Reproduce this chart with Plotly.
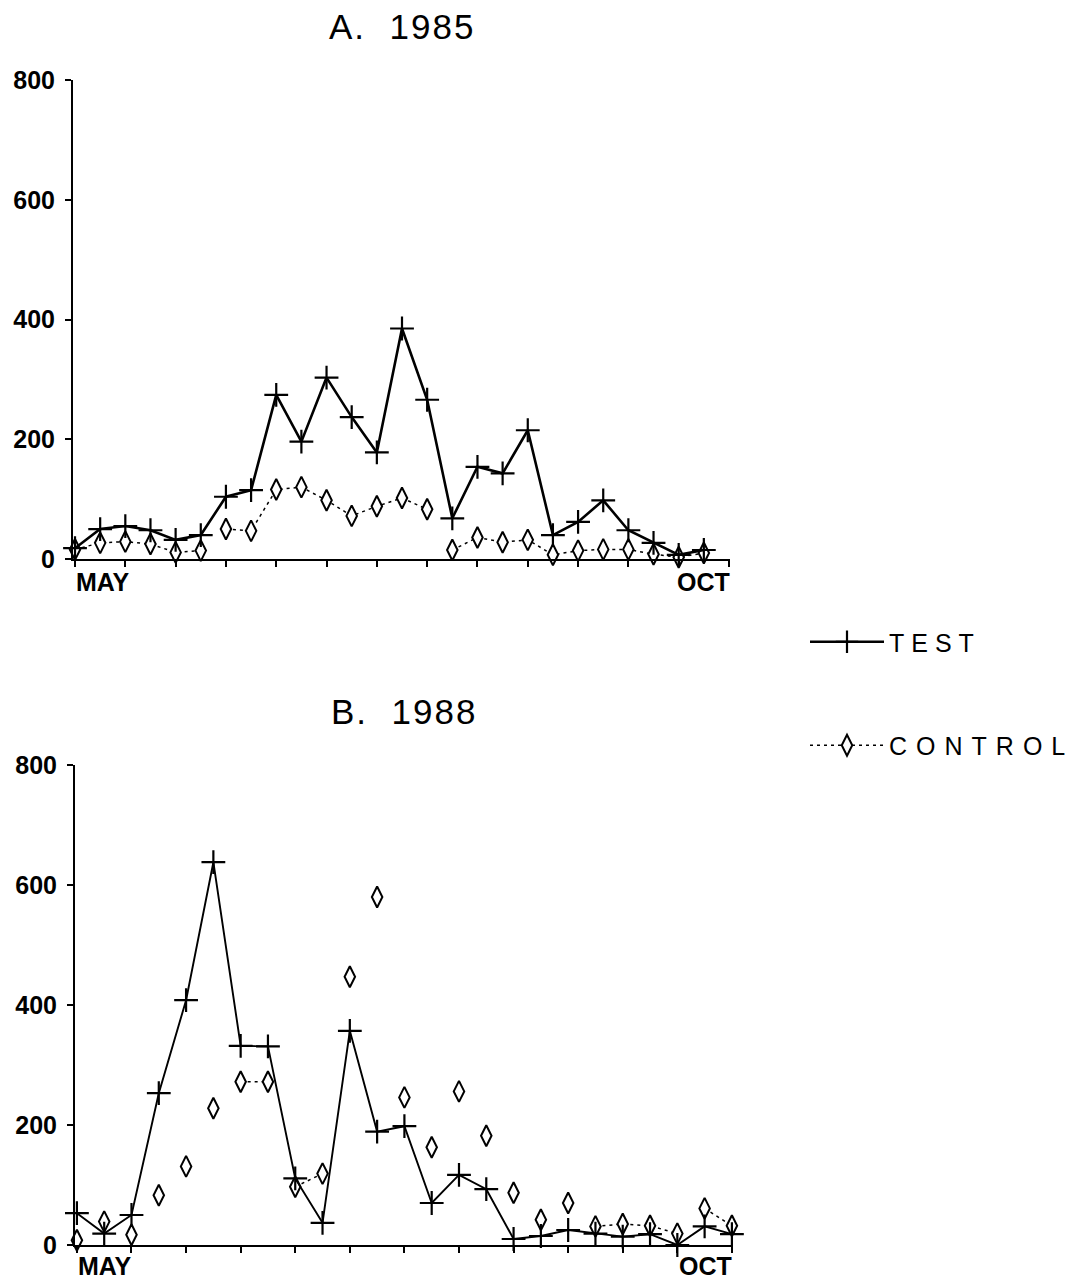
import plotly.graph_objects as go

# ---------------- data ----------------
# A. 1985 : samples at half-tick spacing from MAY (index 0) to OCT (index 26)
test_1985 = [18, 50, 55, 48, 32, 40, 104, 115, 274, 196, 303, 237, 178, 385,
             266, 68, 154, 143, 215, 40, 62, 98, 48, 27, 7, 15]
control_1985 = [16, 27, 29, 25, 11, 14, 50, 47, 116, 120, 98, 72, 88, 102,
                83, 15, 36, 28, 32, 7, 14, 16, 16, 8, 3, 10]
# B. 1988 : samples from MAY (index 0) to OCT (index 24)
test_1988 = [53, 19, 50, 253, 408, 638, 332, 331, 111, 37, 357, 189, 198,
             70, 117, 93, 10, 15, 25, 19, 14, 18, 0, 31, 18]
control_1988 = [8, 39, 17, 83, 131, 228, 272, 272, 97, 119, 447, 580, 246,
                163, 256, 182, 87, 42, 70, 31, 35, 32, 19, 61, 32]

n_ticks_1985 = 26   # index of OCT on panel A
n_ticks_1988 = 24   # index of OCT on panel B
month_labels = ["MAY", "OCT"]
y_ticks = [0, 200, 400, 600, 800]

# visible dotted links between consecutive control points (start index of pair)
control_links_1985 = [i for i in range(25) if i not in (5, 14)]
control_links_1988 = [6, 8, 19, 20, 21, 23]


def gapped(values, links):
    xs, ys = [], []
    for i, v in enumerate(values):
        xs.append(i)
        ys.append(v)
        if i < len(values) - 1 and i not in links:
            xs.append(i + 0.5)
            ys.append(None)
    return xs, ys


FONT = "Liberation Sans, Arial, sans-serif"
OFF = 8                      # page body margin
W, H = 1080 - OFF, 1283 - OFF


def px(x):       # screen x pixel -> paper fraction
    return (x - OFF) / W


def py(y):       # screen y pixel -> paper fraction
    return 1 - (y - OFF) / H


def spaced(t, s):
    return f"<span style='letter-spacing:{s}px'>{t}</span>"


fig = go.Figure()

test_marker = dict(symbol="cross-thin", size=17, color="black",
                   line=dict(color="black", width=2.2))
ctrl_marker = dict(symbol="diamond-tall", size=15, color="white",
                   line=dict(color="black", width=2))

# Panel A
cx, cy = gapped(control_1985, control_links_1985)
fig.add_trace(go.Scatter(x=cx, y=cy, mode="lines+markers", name=spaced("CONTROL", 9),
                         line=dict(color="black", width=1.5, dash="3px,4px"),
                         marker=ctrl_marker, connectgaps=False, cliponaxis=False,
                         legendgroup="c", legendrank=2, showlegend=True,
                         xaxis="x", yaxis="y"))
fig.add_trace(go.Scatter(x=list(range(len(test_1985))), y=test_1985,
                         mode="lines+markers", name=spaced("TEST", 7),
                         line=dict(color="black", width=2.6),
                         marker=test_marker, cliponaxis=False,
                         legendgroup="t", legendrank=1, showlegend=True,
                         xaxis="x", yaxis="y"))

# Panel B
cx, cy = gapped(control_1988, control_links_1988)
fig.add_trace(go.Scatter(x=cx, y=cy, mode="lines+markers", name="CONTROL",
                         line=dict(color="black", width=1.5, dash="3px,4px"),
                         marker=ctrl_marker, connectgaps=False, cliponaxis=False,
                         legendgroup="c", showlegend=False, xaxis="x2", yaxis="y2"))
fig.add_trace(go.Scatter(x=list(range(len(test_1988))), y=test_1988,
                         mode="lines+markers", name="TEST",
                         line=dict(color="black", width=1.9),
                         marker=test_marker, cliponaxis=False,
                         legendgroup="t", showlegend=False, xaxis="x2", yaxis="y2"))

axis_common = dict(showline=True, linecolor="black", linewidth=2, showgrid=False,
                   zeroline=False, ticks="outside", tickcolor="black", tickwidth=2,
                   ticklen=6, automargin=False)
ytick_font = dict(size=25, family="Liberation Sans, Arial", weight="bold")

fig.update_layout(
    width=W, height=H,
    margin=dict(l=0, r=0, t=0, b=0, pad=0, autoexpand=False),
    paper_bgcolor="white", plot_bgcolor="white",
    font=dict(family=FONT, color="black"),
    xaxis=dict(domain=[px(73), px(730)], range=[-0.08, n_ticks_1985 + 0.04],
               tickvals=list(range(0, n_ticks_1985 + 1, 2)), showticklabels=False,
               anchor="y", **axis_common),
    yaxis=dict(domain=[py(559), py(80)], range=[0, 800], tickvals=y_ticks,
               tickfont=ytick_font, ticklabelstandoff=5, anchor="x", **axis_common),
    xaxis2=dict(domain=[px(75), px(733)], range=[-0.07, n_ticks_1988 + 0.04],
                tickvals=list(range(0, n_ticks_1988 + 1, 2)), showticklabels=False,
                anchor="y2", **axis_common),
    yaxis2=dict(domain=[py(1245), py(765)], range=[0, 800], tickvals=y_ticks,
                tickfont=ytick_font, ticklabelstandoff=5, anchor="x2", **axis_common),
    legend=dict(x=px(805), y=py(619), xanchor="left", yanchor="top",
                font=dict(size=25, family=FONT), itemwidth=74,
                tracegroupgap=68, traceorder="grouped",
                bgcolor="rgba(0,0,0,0)", itemclick=False),
    showlegend=True,
)

title_font = dict(size=35, family=FONT, color="black")
label_font = dict(size=25, family="Liberation Sans, Arial", color="black", weight="bold")
annotations = [
    dict(text=spaced("A.\u00a0\u00a01985", 2), x=px(402), y=py(26), xref="paper",
         yref="paper", showarrow=False, font=title_font, xanchor="center",
         yanchor="middle"),
    dict(text=spaced("B.\u00a0\u00a01988", 2), x=px(404), y=py(711), xref="paper",
         yref="paper", showarrow=False, font=title_font, xanchor="center",
         yanchor="middle"),
    dict(text=month_labels[0], x=0, xref="x", y=py(582), yref="paper",
         showarrow=False, font=label_font, xanchor="left", yanchor="middle", xshift=-1),
    dict(text=month_labels[1], x=n_ticks_1985, xref="x", y=py(582), yref="paper",
         showarrow=False, font=label_font, xanchor="right", yanchor="middle", xshift=3),
    dict(text=month_labels[0], x=0, xref="x2", y=py(1266), yref="paper",
         showarrow=False, font=label_font, xanchor="left", yanchor="middle", xshift=-1),
    dict(text=month_labels[1], x=n_ticks_1988, xref="x2", y=py(1266), yref="paper",
         showarrow=False, font=label_font, xanchor="right", yanchor="middle", xshift=2),
]
fig.update_layout(annotations=annotations)

fig.write_html("out.html")
